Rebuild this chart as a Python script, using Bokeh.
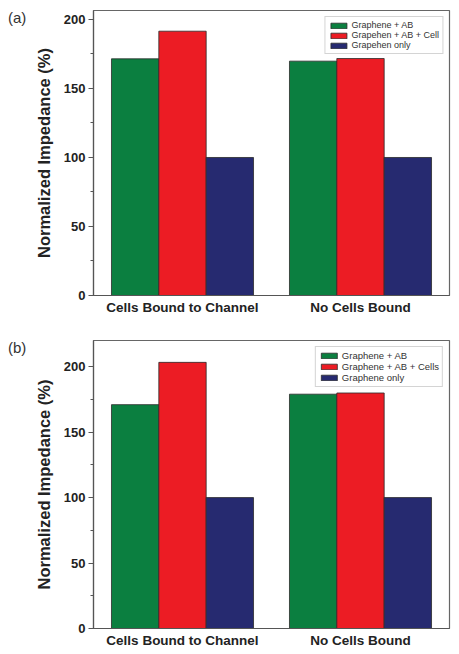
from bokeh.plotting import figure
from bokeh.models import FactorRange, Range1d, Legend, LegendItem, ColumnDataSource, FixedTicker, Div
from bokeh.transform import dodge
from bokeh.layouts import column, row
from bokeh.embed import file_html
from bokeh.resources import INLINE

categories = ["Cells Bound to Channel", "No Cells Bound"]

a_graphene_ab = [171.5, 169.8]
a_graphene_ab_cell = [191.5, 171.7]
a_graphene_only = [100, 100]
a_labels = ["Graphene + AB", "Grapehen + AB + Cell", "Grapehen only"]

b_graphene_ab = [171.0, 179.0]
b_graphene_ab_cells = [203.3, 179.9]
b_graphene_only = [100, 100]
b_labels = ["Graphene + AB", "Graphene + AB + Cells", "Graphene only"]

y_ticks = [0, 50, 100, 150, 200]
y_minor = [25, 75, 125, 175]
colors = ["#0b7f40", "#ec1c24", "#262a70"]

FONT = "Liberation Sans"
TAG_W = 30


def make_panel(tag, series, labels, ymax, height, b_top, b_bottom, leg_font, leg_margin):
    p = figure(x_range=FactorRange(*categories, range_padding=0), y_range=Range1d(0, ymax),
               width=459 - TAG_W, height=height, output_backend="svg", toolbar_location=None,
               min_border_left=93 - TAG_W, min_border_right=10, min_border_top=b_top,
               min_border_bottom=b_bottom)
    src = ColumnDataSource(dict(cat=categories, s0=series[0], s1=series[1], s2=series[2]))
    w = 0.266
    renderers = []
    for i, (key, off) in enumerate([("s0", -w), ("s1", 0.0), ("s2", w)]):
        r = p.vbar(x=dodge("cat", off, range=p.x_range), top=key, width=w, bottom=0,
                   source=src, fill_color=colors[i], line_color="#2a2a2a", line_width=0.8)
        renderers.append(r)

    p.xgrid.visible = False
    p.ygrid.visible = False
    p.outline_line_color = "#666666"
    p.outline_line_width = 1.2

    ya = p.yaxis[0]
    ya.ticker = FixedTicker(ticks=y_ticks, minor_ticks=y_minor)
    ya.axis_label = "Normalized Impedance (%)"
    ya.axis_label_text_font = FONT
    ya.axis_label_text_font_style = "bold"
    ya.axis_label_text_font_size = "16.5px"
    ya.axis_label_text_color = "#222222"
    ya.axis_label_standoff = 8
    ya.major_label_text_font = FONT
    ya.major_label_text_font_style = "bold"
    ya.major_label_text_font_size = "13px"
    ya.major_label_text_color = "#222222"
    ya.major_label_standoff = 3
    ya.major_tick_out = 5
    ya.major_tick_in = 0
    ya.minor_tick_out = 3
    ya.minor_tick_in = 0
    ya.axis_line_color = "#555555"
    ya.major_tick_line_color = "#555555"
    ya.minor_tick_line_color = "#555555"
    ya.axis_line_width = 1.2

    xa = p.xaxis[0]
    xa.major_tick_out = 0
    xa.major_tick_in = 0
    xa.major_label_text_font = FONT
    xa.major_label_text_font_style = "bold"
    xa.major_label_text_font_size = "13.5px"
    xa.major_label_text_color = "#222222"
    xa.major_label_standoff = 4
    xa.axis_line_color = "#555555"
    xa.axis_line_width = 1.2

    items = [LegendItem(label=labels[i], renderers=[renderers[i]]) for i in range(3)]
    leg = Legend(items=items, location="top_right", margin=leg_margin, padding=3,
                 spacing=0, glyph_width=20, glyph_height=7, label_height=10,
                 label_standoff=3, label_text_font=FONT, label_text_font_size=leg_font,
                 label_text_color="#333333", border_line_color="#aaaaaa",
                 border_line_width=1, background_fill_alpha=1.0)
    p.add_layout(leg)

    div = Div(text=('<div style="position:relative;left:8px;top:9px;font-family:\'Liberation Sans\';'
                    'font-size:15px;color:#333333;white-space:nowrap;line-height:17px">'
                    + tag + '</div>'),
              width=TAG_W, height=height, margin=0)
    return row(div, p, spacing=0)


p1 = make_panel("(a)", [a_graphene_ab, a_graphene_ab_cell, a_graphene_only], a_labels,
                206.5, 330, 10, 35, "9px", 6)
p2 = make_panel("(b)", [b_graphene_ab, b_graphene_ab_cells, b_graphene_only], b_labels,
                220, 324, 10, 26, "9.5px", 6)

layout = column(p1, p2, spacing=0)
open("out.html", "w").write(file_html(layout, INLINE))
